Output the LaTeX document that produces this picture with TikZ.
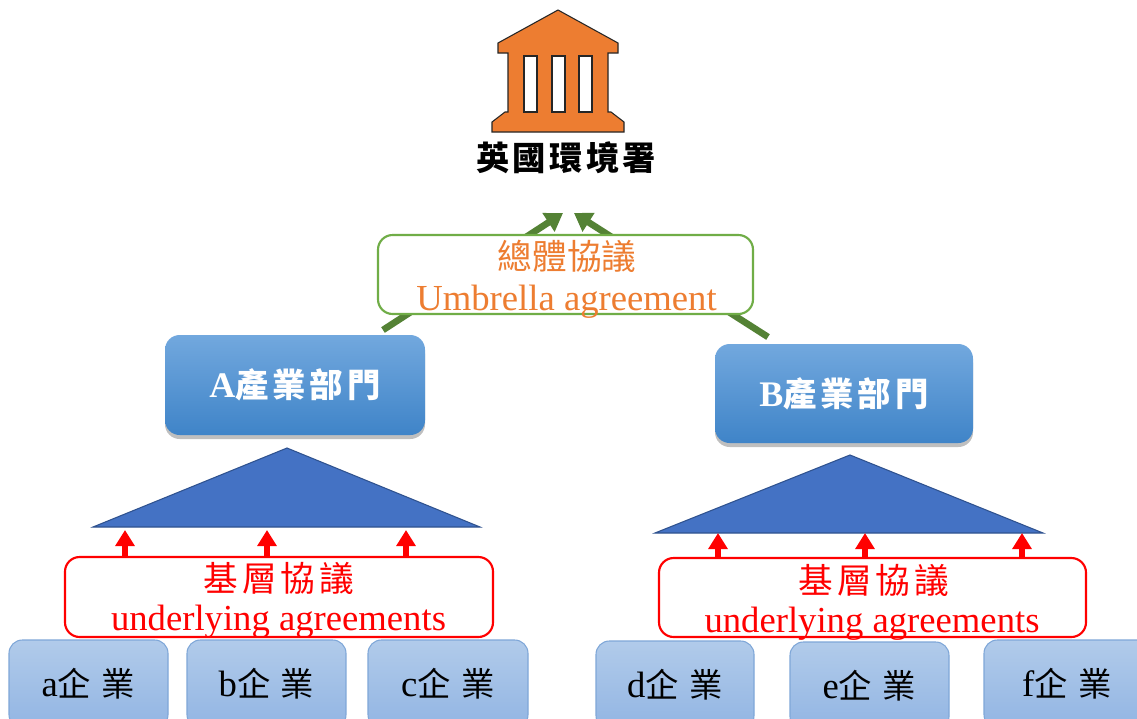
\documentclass[tikz,border=0pt]{standalone}
\usepackage{fontspec}
\setmainfont{Liberation Serif}
\newfontfamily\cjk{Noto Sans CJK TC}
\usetikzlibrary{arrows.meta,shadows}
\definecolor{orng}{HTML}{ED7D31}
\definecolor{grn}{HTML}{548235}
\definecolor{lgrn}{HTML}{70AD47}
\definecolor{triblue}{HTML}{4472C4}
\definecolor{tribord}{HTML}{2F528F}
\definecolor{ctop}{HTML}{B1CBEA}
\definecolor{cbot}{HTML}{92B5E3}
\definecolor{cbord}{HTML}{7FA7D8}
\definecolor{btop}{HTML}{72A8DE}
\definecolor{bbot}{HTML}{3F84C8}
\definecolor{redc}{HTML}{FF0000}
\tikzset{
  bigtext/.style={font=\fontsize{27.5}{30}\selectfont, inner sep=0pt},
  garrow/.style={grn, line width=5pt, -{Triangle[length=13pt,width=16pt]}},
  rarrow/.style={redc, line width=4pt, -{Triangle[length=12pt,width=14pt]}},
  greenbox/.style={draw=lgrn, line width=1.6pt, fill=white, rounded corners=11pt, inner sep=0pt},
  redbox/.style={draw=redc, line width=1.6pt, fill=white, rounded corners=11pt, inner sep=0pt},
  sectorbox/.style={top color=btop, bottom color=bbot, rounded corners=11pt, inner sep=0pt,
     drop shadow={shadow xshift=0pt, shadow yshift=-3pt, opacity=0.25, fill=black},
     text=white, font=\bfseries\fontsize{27}{30}\selectfont},
  firmbox/.style={top color=ctop, bottom color=cbot, draw=cbord, line width=0.8pt, rounded corners=10pt, inner sep=0pt,
     font=\fontsize{27.5}{30}\selectfont},
  tri/.style={fill=triblue, draw=tribord, line width=0.8pt},
  building/.style={fill=orng, draw=black!85, line width=0.8pt},
}
\begin{document}
\begin{tikzpicture}[x=0.75pt,y=-0.75pt]
\useasboundingbox (0,0) rectangle (1137,718);
\clip (0,0) rectangle (1137,718);
\fill[white] (0,0) rectangle (1137,718);

% building
\path[building] (498,43) -- (558,10) -- (618,43) -- (618,53) -- (608,53) -- (608,112) -- (611,112)
  -- (624,122) -- (624,132) -- (492,132) -- (492,122) -- (505,112) -- (508,112) -- (508,53) -- (498,53) -- cycle;
\filldraw[fill=white, draw=black!85, line width=0.8pt] (524,56) rectangle (537,112);
\filldraw[fill=white, draw=black!85, line width=0.8pt] (552,56) rectangle (565,112);
\filldraw[fill=white, draw=black!85, line width=0.8pt] (579,56) rectangle (592,112);
\node[bigtext, font=\cjk\bfseries\fontsize{25}{30}\selectfont] (agency) at (566,158)
  {英\hspace{2.5pt}國\hspace{2.5pt}環\hspace{2.5pt}境\hspace{2.5pt}署};

% sector boxes
\node[sectorbox, minimum width=260*0.75pt, minimum height=100*0.75pt] (A) at (295,385)
  {A{\cjk\fontsize{25}{30}\selectfont 產\hspace{3pt}業\hspace{3pt}部\hspace{3pt}門}};
\node[sectorbox, minimum width=258*0.75pt, minimum height=99*0.75pt] (B) at (844,393.5)
  {B{\cjk\fontsize{25}{30}\selectfont 產\hspace{3pt}業\hspace{3pt}部\hspace{3pt}門}};

% green arrows to agency
\coordinate (gL) at (383,330);
\coordinate (gR) at (768,337);
\coordinate (tL) at (563,213);
\coordinate (tR) at (574,213);
\draw[garrow] (gL) -- (tL);
\draw[garrow] (gR) -- (tR);

% umbrella agreement
\node[greenbox, minimum width=375*0.75pt, minimum height=79*0.75pt] (U) at (565.5,274.5) {};
\node[bigtext, text=orng] (U1) at (567,256) {\cjk\fontsize{26}{30}\selectfont 總體協議};
\node[bigtext, text=orng, anchor=base] (U2) at (566.5,310) {Umbrella agreement};

% triangles
\path[tri] (287,448) -- (480,527) -- (93,527) -- cycle;
\path[tri] (850,455) -- (1043,533) -- (655,533) -- cycle;

% firm boxes
\node[firmbox, minimum width=159*0.75pt, minimum height=88*0.75pt] (fa) at (88.5,684) {a{\cjk\fontsize{25}{30}\selectfont 企\hspace{8pt}業}};
\node[firmbox, minimum width=159*0.75pt, minimum height=88*0.75pt] (fb) at (266.5,684) {b{\cjk\fontsize{25}{30}\selectfont 企\hspace{8pt}業}};
\node[firmbox, minimum width=160*0.75pt, minimum height=88*0.75pt] (fc) at (448,684) {c{\cjk\fontsize{25}{30}\selectfont 企\hspace{8pt}業}};
\node[firmbox, minimum width=158*0.75pt, minimum height=88*0.75pt] (fd) at (675,685) {d{\cjk\fontsize{25}{30}\selectfont 企\hspace{8pt}業}};
\node[firmbox, minimum width=159*0.75pt, minimum height=88*0.75pt] (fe) at (869.5,686) {e{\cjk\fontsize{25}{30}\selectfont 企\hspace{8pt}業}};
\node[firmbox, minimum width=166*0.75pt, minimum height=88*0.75pt] (ff) at (1067,684) {f{\cjk\fontsize{25}{30}\selectfont 企\hspace{8pt}業}};

% underlying agreements
\node[redbox, minimum width=428*0.75pt, minimum height=80*0.75pt] (RL) at (279,597) {};
\node[redbox, minimum width=427*0.75pt, minimum height=79*0.75pt] (RR) at (872.5,597.5) {};
\node[bigtext, text=redc] (RL1) at (279,578) {\cjk\fontsize{26}{30}\selectfont 基\hspace{3pt}層\hspace{3pt}協\hspace{3pt}議};
\node[bigtext, text=redc, anchor=base] (RL2) at (278.5,630) {underlying agreements};
\node[bigtext, text=redc] (RR1) at (874,580) {\cjk\fontsize{26}{30}\selectfont 基\hspace{3pt}層\hspace{3pt}協\hspace{3pt}議};
\node[bigtext, text=redc, anchor=base] (RR2) at (872,632) {underlying agreements};

% red arrows to triangles
\coordinate (r1) at (125,530);
\coordinate (r2) at (267,530);
\coordinate (r3) at (406,530);
\coordinate (r4) at (718,533);
\coordinate (r5) at (865,533);
\coordinate (r6) at (1022,533);
\foreach \p in {r1,r2,r3} \draw[rarrow] (\p |- RL.north) -- (\p);
\foreach \p in {r4,r5,r6} \draw[rarrow] (\p |- RR.north) -- (\p);
\end{tikzpicture}
\end{document}
